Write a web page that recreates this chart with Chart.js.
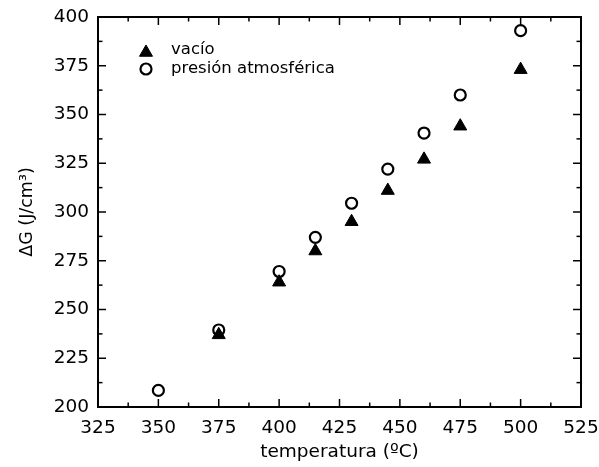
<!DOCTYPE html>
<html><head><meta charset="utf-8">
<script src="https://cdn.jsdelivr.net/npm/chart.js@4/dist/chart.umd.min.js"></script>
<style>html,body{margin:0;padding:0;background:#fff}#wrap{width:599px;height:467px}</style>
</head><body><div id="wrap"><canvas id="c" width="599" height="467"></canvas></div>
<script>
const seriesNames = ['vacío', 'presión atmosférica'];
const tempVacio = [375, 400, 415, 430, 445, 460, 475, 500];
const dgVacio = [237, 264, 280, 295, 311, 327, 344, 373];
const tempAtm = [350, 375, 400, 415, 430, 445, 460, 475, 500];
const dgAtm = [208.5, 239.5, 269.5, 287, 304.5, 322, 340.5, 360, 393];
const xTicks = [325, 350, 375, 400, 425, 450, 475, 500, 525];
const yTicks = [200, 225, 250, 275, 300, 325, 350, 375, 400];
const xTitle = 'temperatura (ºC)';
const yTitle = 'ΔG (J/cm³)';

const FONT = "'DejaVu Sans', sans-serif";

const framePlugin = {
  id: 'frame',
  afterDatasetsDraw(chart) {
    const {ctx, chartArea: a, scales: {x, y}} = chart;
    ctx.save();
    ctx.strokeStyle = '#000';
    ctx.lineWidth = 2;
    ctx.strokeRect(a.left, a.top, a.right - a.left, a.bottom - a.top);
    ctx.lineWidth = 1.5;
    const line = (x1, y1, x2, y2) => { ctx.beginPath(); ctx.moveTo(x1, y1); ctx.lineTo(x2, y2); ctx.stroke(); };
    const xs = xTicks[1] - xTicks[0];
    for (let i = 0; i < xTicks.length; i++) {
      const vals = [xTicks[i]];
      if (i < xTicks.length - 1) vals.push(xTicks[i] + xs / 2);
      vals.forEach((v, k) => {
        const px = x.getPixelForValue(v);
        const L = k === 0 ? 8 : 4.5;
        line(px, a.bottom, px, a.bottom - L);
        line(px, a.top, px, a.top + L);
      });
    }
    const ys = yTicks[1] - yTicks[0];
    for (let i = 0; i < yTicks.length; i++) {
      const vals = [yTicks[i]];
      if (i < yTicks.length - 1) vals.push(yTicks[i] + ys / 2);
      vals.forEach((v, k) => {
        const py = y.getPixelForValue(v);
        const L = k === 0 ? 8 : 4.5;
        line(a.left, py, a.left + L, py);
        line(a.right, py, a.right - L, py);
      });
    }
    // legend
    const ds = chart.data.datasets;
    const lx = a.left + 48, ly0 = a.top + 33, dy = 19;
    ds.forEach((d, i) => {
      const cy = ly0 + i * dy;
      ctx.fillStyle = d.backgroundColor;
      ctx.strokeStyle = d.borderColor;
      ctx.lineWidth = d.borderWidth;
      Chart.helpers.drawPoint(ctx, {
        pointStyle: d.pointStyle, radius: d.pointRadius, borderWidth: d.borderWidth
      }, lx, cy + (d.pointStyle === 'triangle' ? 2.5 : 0));
      ctx.fillStyle = '#000';
      ctx.font = "16.5px " + FONT;
      ctx.textBaseline = 'middle';
      ctx.textAlign = 'left';
      ctx.fillText(d.label, lx + 25, cy);
    });
    ctx.restore();
  }
};

new Chart(document.getElementById('c'), {
  type: 'scatter',
  data: {
    datasets: [
      {
        label: seriesNames[0],
        data: tempVacio.map((t, i) => ({x: t, y: dgVacio[i]})),
        pointStyle: 'triangle', pointRadius: 7.5, borderWidth: 1,
        backgroundColor: '#000', borderColor: '#000', pointHoverRadius: 7.5
      },
      {
        label: seriesNames[1],
        data: tempAtm.map((t, i) => ({x: t, y: dgAtm[i]})),
        pointStyle: 'circle', pointRadius: 5.5, borderWidth: 2.2,
        backgroundColor: '#fff', borderColor: '#000', pointHoverRadius: 5.5
      }
    ]
  },
  options: {
    responsive: false,
    animation: false,
    events: [],
    layout: {padding: {top: 17, right: 18, left: 0, bottom: 0}},
    plugins: {legend: {display: false}, tooltip: {enabled: false}},
    scales: {
      x: {
        type: 'linear', min: 325, max: 525,
        afterBuildTicks: s => { s.ticks = xTicks.map(v => ({value: v})); },
        afterFit: s => { s.height = 60; s.paddingLeft = 0; s.paddingRight = 0; },
        grid: {display: false, drawTicks: false},
        border: {display: false},
        ticks: {color: '#000', font: {family: FONT, size: 18.5}, padding: 10, maxRotation: 0, autoSkip: false},
        title: {display: true, text: xTitle, color: '#000', font: {family: FONT, size: 18.5}, padding: {top: 0, bottom: 4}}
      },
      y: {
        type: 'linear', min: 200, max: 400,
        afterBuildTicks: s => { s.ticks = yTicks.map(v => ({value: v})); },
        afterFit: s => { s.width = 98; s.paddingTop = 0; s.paddingBottom = 0; },
        grid: {display: false, drawTicks: false},
        border: {display: false},
        ticks: {color: '#000', font: {family: FONT, size: 18.5}, padding: 9, autoSkip: false},
        title: {display: true, text: yTitle, color: '#000', font: {family: FONT, size: 17.5}, padding: {top: 17, bottom: 0}}
      }
    }
  },
  plugins: [framePlugin]
});
</script>
</body></html>
